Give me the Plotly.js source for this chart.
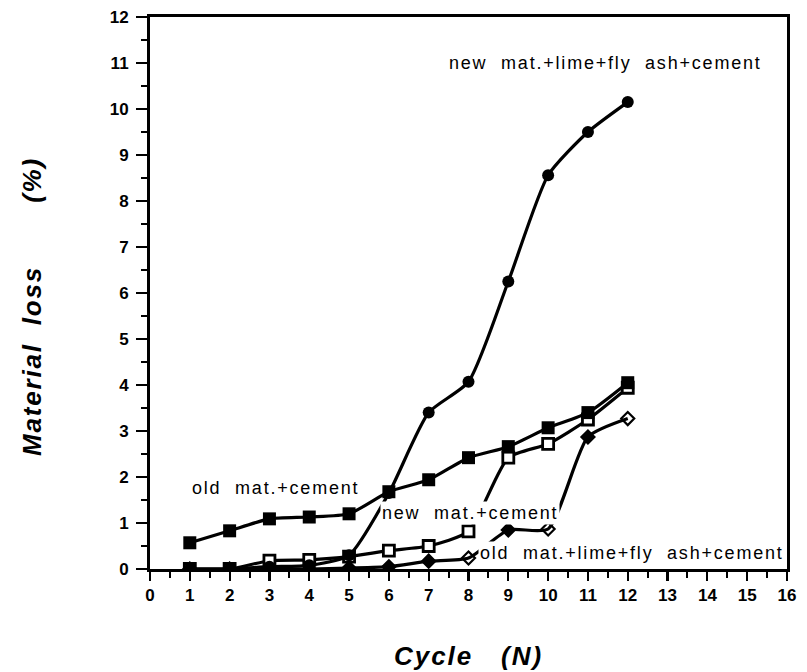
<!DOCTYPE html>
<html><head><meta charset="utf-8">
<script src="https://cdn.plot.ly/plotly-3.0.1.min.js"></script>
<style>body{margin:0;background:#fff}#c{width:807px;height:672px}
.annotation-text{letter-spacing:1.8px}
.xtitle{letter-spacing:2px}</style>
</head><body><div id="c"></div>
<script>
var cycles = [1,2,3,4,5,6,7,8,9,10,11,12];
var oldMatCement = [0.57,0.83,1.09,1.13,1.2,1.68,1.94,2.42,2.66,3.07,3.4,4.05];
var newMatCement = [0,0,0.18,0.2,0.27,0.4,0.5,0.82,2.42,2.72,3.25,3.94];
var newMatLimeFlyAsh = [0,0,0.05,0.08,0.3,1.65,3.4,4.07,6.25,8.56,9.5,10.15];
var oldMatLimeFlyAsh = [0,0,0,0,0.02,0.05,0.17,0.24,0.85,0.87,2.87,3.27];
var labels = ["new  mat.+lime+fly  ash+cement","old  mat.+cement","new  mat.+cement","old  mat.+lime+fly  ash+cement"];
var xTitle = "Cycle   (N)";
var yTitle = "Material  loss       (%)";
var xTicks = [0,1,2,3,4,5,6,7,8,9,10,11,12,13,14,15,16];
var yTicks = [0,1,2,3,4,5,6,7,8,9,10,11,12];

var lineStyle = {color:'#000', width:3.2, shape:'spline', smoothing:0.6};
var oldLimeSymbols = ['diamond','diamond','diamond','diamond','diamond','diamond','diamond','diamond-open','diamond','diamond-open','diamond','diamond-open'];
var traces = [
 {x:cycles, y:oldMatLimeFlyAsh, mode:'lines+markers', line:lineStyle,
  marker:{symbol:oldLimeSymbols, size:10, color:'#000', line:{color:'#000', width:2.2}}},
 {x:cycles, y:newMatCement, mode:'lines+markers', line:lineStyle,
  marker:{symbol:'square', size:11, color:'#fff', line:{color:'#000', width:2.8}}},
 {x:cycles, y:newMatLimeFlyAsh, mode:'lines+markers', line:lineStyle,
  marker:{symbol:'circle', size:12, color:'#000'}},
 {x:cycles, y:oldMatCement, mode:'lines+markers', line:lineStyle,
  marker:{symbol:'square', size:13, color:'#000'}}
];
var annFont = {family:'Liberation Sans, Arial, sans-serif', size:18, color:'#000'};
function ann(t,x,y){return {text:t, x:x, y:y, xref:'x', yref:'y', xanchor:'left', yanchor:'middle', showarrow:false, font:annFont, bgcolor:'#fff', borderpad:1};}
var layout = {
 width:807, height:672, paper_bgcolor:'#fff', plot_bgcolor:'#fff', showlegend:false,
 margin:{l:150, r:20, t:17, b:103},
 font:{family:'Liberation Sans, Arial, sans-serif', color:'#000'},
 xaxis:{range:[0,16], tickvals:xTicks, ticktext:xTicks.map(String), ticks:'outside', ticklen:9, tickwidth:2.2, tickcolor:'#000',
   minor:{dtick:0.5, ticks:'outside', ticklen:6, tickwidth:2, tickcolor:'#000', showgrid:false},
   showline:true, linewidth:3, linecolor:'#000', mirror:true, showgrid:false, zeroline:false,
   tickfont:{size:17, weight:'bold'},
   title:{text:'<b><i>'+xTitle+'</i></b>', font:{size:26}, standoff:43}},
 yaxis:{range:[0,12], tickvals:yTicks, ticktext:yTicks.map(String), ticks:'outside', ticklen:11, tickwidth:2.2, tickcolor:'#000',
   minor:{dtick:0.5, ticks:'outside', ticklen:6, tickwidth:2, tickcolor:'#000', showgrid:false},
   showline:true, linewidth:3, linecolor:'#000', mirror:true, showgrid:false, zeroline:false,
   tickfont:{size:17, weight:'bold'}, ticklabelstandoff:4},
 annotations:[ann(labels[0],7.45,11.0), ann(labels[1],1.0,1.76), ann(labels[2],5.78,1.22), ann(labels[3],8.25,0.35),
   {text:'<b><i>'+yTitle+'</i></b>', xref:'paper', yref:'paper', x:-0.185, y:0.475, xanchor:'center', yanchor:'middle',
    textangle:-90, showarrow:false, font:{family:'Liberation Sans, Arial, sans-serif', size:26, color:'#000'}}]
};
Plotly.newPlot('c', traces, layout, {displayModeBar:false, staticPlot:true});
</script></body></html>
